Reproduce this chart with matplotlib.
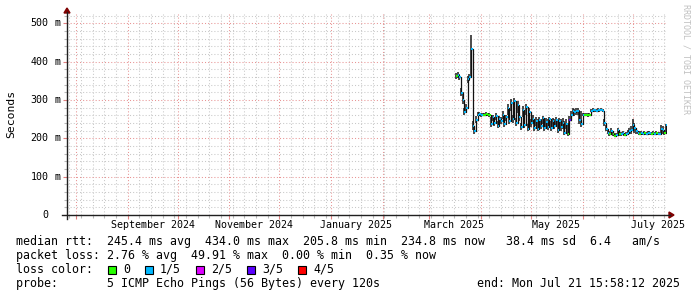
import matplotlib
matplotlib.use('Agg')
import matplotlib.pyplot as plt
import matplotlib.dates as mdates
from matplotlib.ticker import MultipleLocator, NullFormatter
from matplotlib.patches import Rectangle, Polygon
from matplotlib.lines import Line2D
import numpy as np
import pandas as pd

W, H = 697, 297
MONO = 'DejaVu Sans Mono'

# one value per day, starting at first_day
first_day = '2025-03-17'
median_ms = [
    362, 365, 360, 318, 300, 268, 278, 355, 360, 434,
    232, 218, 248, 262, 263, 260, 262, 261, 264, 262,
    260, 238, 255, 240, 258, 232, 250, 245, 262, 238,
    255, 280, 245, 292, 250, 298, 240, 288, 255, 230,
    275, 235, 282, 225, 268, 240, 250, 228, 245, 224,
    248, 232, 252, 226, 242, 230, 250, 226, 244, 232,
    248, 222, 245, 230, 240, 215, 238, 210, 248, 262,
    270, 268, 272, 270, 248, 236, 262, 261, 262, 260,
    262, 272, 274, 273, 272, 274, 273, 275, 272, 240,
    225, 215, 212, 218, 210, 206, 209, 222, 212, 210,
    214, 209, 210, 215, 220, 222, 235, 228, 218, 215,
    212, 214, 212, 213, 211, 214, 213, 212, 214, 212,
    213, 211, 212, 225, 222, 215, 235,
]
smoke_lo_ms = [
    355, 358, 352, 310, 290, 262, 270, 345, 350, 360,
    222, 210, 240, 258, 258, 256, 258, 257, 259, 257,
    256, 230, 245, 232, 248, 226, 240, 236, 250, 230,
    245, 260, 236, 270, 240, 275, 232, 265, 245, 222,
    255, 226, 262, 218, 250, 230, 238, 220, 232, 218,
    235, 224, 238, 220, 230, 222, 236, 220, 230, 224,
    234, 215, 230, 220, 225, 208, 225, 205, 215, 250,
    260, 258, 262, 260, 238, 230, 258, 257, 258, 256,
    258, 268, 270, 268, 268, 270, 268, 270, 268, 232,
    218, 210, 206, 210, 205, 206, 206, 210, 206, 206,
    208, 206, 206, 208, 210, 212, 218, 215, 210, 210,
    208, 209, 208, 209, 208, 210, 209, 208, 210, 208,
    209, 208, 208, 212, 210, 208, 214,
]
smoke_hi_ms = [
    370, 372, 368, 330, 320, 280, 290, 362, 368, 470,
    245, 230, 258, 268, 268, 265, 266, 266, 268, 266,
    265, 255, 262, 250, 265, 245, 258, 255, 270, 250,
    262, 290, 255, 302, 260, 305, 252, 296, 265, 240,
    285, 246, 290, 236, 278, 250, 260, 248, 255, 250,
    256, 250, 258, 248, 252, 250, 256, 246, 252, 250,
    255, 245, 252, 250, 252, 245, 250, 240, 258, 270,
    278, 276, 280, 278, 275, 270, 266, 265, 266, 265,
    266, 276, 278, 277, 276, 278, 277, 279, 276, 250,
    235, 222, 220, 226, 216, 214, 215, 228, 218, 216,
    220, 214, 216, 222, 228, 232, 250, 240, 226, 220,
    218, 220, 216, 218, 216, 219, 218, 217, 218, 216,
    218, 215, 216, 235, 232, 222, 238,
]
loss_level = [
    0, 1, 1, 1, 1, 1, 1, 1, 1, 1,
    1, 1, 1, 1, 1, 1, 0, 0, 0, 0,
    0, 1, 1, 1, 1, 1, 1, 1, 1, 1,
    1, 1, 1, 1, 1, 1, 1, 1, 1, 1,
    1, 1, 1, 1, 1, 1, 1, 1, 1, 1,
    1, 1, 1, 1, 1, 1, 1, 1, 1, 1,
    1, 1, 1, 1, 1, 1, 1, 0, 3, 1,
    1, 1, 1, 1, 1, 1, 1, 0, 0, 0,
    0, 1, 1, 1, 1, 1, 1, 1, 1, 1,
    1, 1, 0, 1, 0, 0, 1, 1, 0, 1,
    1, 0, 1, 1, 1, 1, 1, 1, 1, 1,
    0, 1, 1, 0, 1, 1, 1, 0, 0, 1,
    0, 1, 1, 1, 1, 0, 1,
]

loss_labels = ['0', '1/5', '2/5', '3/5', '4/5']
loss_colors = ['#26ff00', '#00b8ff', '#dd00ff', '#5a00ff', '#ff0000']
label_months = ['2024-09', '2024-11', '2025-01', '2025-03', '2025-05', '2025-07']

stats_rtt = 'median rtt:  245.4 ms avg  434.0 ms max  205.8 ms min  234.8 ms now   38.4 ms sd  6.4   am/s'
stats_loss = 'packet loss: 2.76 % avg  49.91 % max  0.00 % min  0.35 % now'
probe_text = 'probe:       5 ICMP Echo Pings (56 Bytes) every 120s'
end_text = 'end: Mon Jul 21 15:58:12 2025'

end_time = pd.Timestamp('2025-07-21 15:58:12')
start_time = end_time - pd.Timedelta(days=360)


def px(x, y):
    return x / W, 1 - y / H


fig = plt.figure(figsize=(W / 100, H / 100), dpi=100)
fig.patch.set_facecolor('white')
ax = fig.add_axes([67 / W, (H - 215) / H, 600 / W, 201 / H])
for s in ax.spines.values():
    s.set_visible(False)

days = pd.date_range(first_day, periods=len(median_ms), freq='D')
days_end = days + pd.Timedelta(days=1)

ax.vlines(days, smoke_lo_ms, smoke_hi_ms, color='#1a1a1a', lw=1.1, zorder=3)
ax.step(days, median_ms, where='post', color='#111111', lw=0.9, zorder=3)
ax.hlines(median_ms, days, days_end,
          colors=[loss_colors[l] for l in loss_level], lw=1.4, zorder=4)

ax.set_xlim(start_time, end_time)
ax.set_ylim(0, 524)

ax.xaxis.set_major_locator(mdates.MonthLocator())
ax.xaxis.set_minor_locator(mdates.WeekdayLocator(byweekday=mdates.SU))
ax.yaxis.set_major_locator(MultipleLocator(100))
ax.yaxis.set_minor_locator(MultipleLocator(20))
ax.xaxis.set_major_formatter(NullFormatter())
ax.yaxis.set_major_formatter(NullFormatter())

ax.grid(which='minor', color='#c8c8c8', linestyle=(0, (1, 2)), lw=0.75)
ax.grid(which='major', color='#e89494', linestyle=(0, (1, 2)), lw=0.75)
ax.set_axisbelow(True)
ax.tick_params(which='major', direction='out', length=3, width=0.8, color='#e08080')
ax.tick_params(which='minor', direction='out', length=2, width=0.8, color='#b8b8b8')

# axes with arrows
fig.add_artist(Line2D([62 / W, 670 / W], [1 - 215 / H] * 2, color='#202020', lw=1.0))
fig.add_artist(Line2D([67 / W] * 2, [1 - 219 / H, 1 - 12 / H], color='#202020', lw=1.0))
fig.add_artist(Polygon([px(669, 212), px(669, 218), px(674, 215)], closed=True,
                       color='#7f0000', transform=fig.transFigure))
fig.add_artist(Polygon([px(64, 13), px(70, 13), px(67, 8)], closed=True,
                       color='#7f0000', transform=fig.transFigure))

# y tick labels
ytr = ax.get_yaxis_transform()
for v in range(0, 501, 100):
    ax.text(-18.5 / 600, v, f'{v}', transform=ytr, ha='right', va='center',
            family=MONO, fontsize=7.2, clip_on=False)
    if v:
        ax.text(-12.5 / 600, v, 'm', transform=ytr, ha='left', va='center',
                family=MONO, fontsize=7.2, clip_on=False)

# x labels, centred half a month after the month start
xtr = ax.get_xaxis_transform()
for m in label_months:
    t = pd.Timestamp(m + '-01') + pd.Timedelta(days=15)
    ax.text(t, -9.5 / 201, pd.Timestamp(m + '-01').strftime('%B %Y'), transform=xtr,
            ha='center', va='center', family=MONO, fontsize=7.2, clip_on=False)

fig.text(*px(11, 114), 'Seconds', rotation=90, ha='center', va='center',
         family=MONO, fontsize=8.2)
fig.text(*px(686, 4), 'RRDTOOL / TOBI OETIKER', rotation=270, ha='center', va='top',
         family=MONO, fontsize=6, color='#c0c0c0')

# legend block
fs = 8.4
fig.text(*px(16, 245), stats_rtt, family=MONO, fontsize=fs, va='baseline')
fig.text(*px(16, 259), stats_loss, family=MONO, fontsize=fs, va='baseline')
fig.text(*px(16, 273), 'loss color:', family=MONO, fontsize=fs, va='baseline')
x = 108
for lab, col in zip(loss_labels, loss_colors):
    fig.add_artist(Rectangle(px(x, 274), 8 / W, 8 / H, transform=fig.transFigure,
                             facecolor=col, edgecolor='black', lw=0.8))
    fig.text(*px(x + 15, 273), lab, family=MONO, fontsize=fs, va='baseline')
    x += 15 + 7 * len(lab) + 15
fig.text(*px(16, 287), probe_text, family=MONO, fontsize=fs, va='baseline')
fig.text(*px(680, 287), end_text, family=MONO, fontsize=fs, va='baseline', ha='right')

fig.savefig('out.png', dpi=100, facecolor='white')
